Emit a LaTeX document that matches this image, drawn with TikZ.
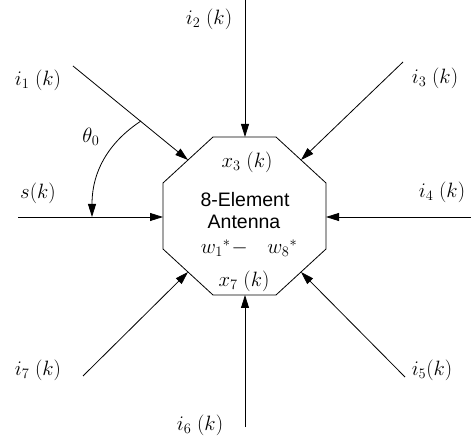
\documentclass[tikz,border=0pt]{standalone}
\usepackage{fontspec}
\newfontfamily\arialfont{Liberation Sans}
\usetikzlibrary{arrows.meta}
\begin{document}
\begin{tikzpicture}[x=1pt,y=-1pt,
  sig/.style={line width=0.8pt, -{Triangle[length=13pt,width=8pt]}},
  lbl/.style={font=\fontsize{22}{24}\selectfont, inner sep=0pt},
  inner/.style={font=\arialfont\fontsize{19.5}{22}\selectfont, inner sep=0pt},
]
\useasboundingbox (0,0) rectangle (471,443);
% octagon
\coordinate (o1) at (213,137);
\coordinate (o2) at (276,137);
\coordinate (o3) at (326,183);
\coordinate (o4) at (326,249);
\coordinate (o5) at (276,295);
\coordinate (o6) at (213,295);
\coordinate (o7) at (163,249);
\coordinate (o8) at (163,183);
\draw[line width=0.8pt] (o1) -- (o2) -- (o3) -- (o4) -- (o5) -- (o6) -- (o7) -- (o8) -- cycle;
% edge points
\coordinate (eT) at (245,137);
\coordinate (eB) at (245,295);
\coordinate (eL) at (163,217);
\coordinate (eR) at (326,217);
\coordinate (eUL) at (188,160);
\coordinate (eUR) at (301,160);
\coordinate (eLL) at (188,272);
\coordinate (eLR) at (301,272);
% inner text
\node[lbl] (x3) at (247,162) {$x_3\;(k)$};
\node[inner] (el) at (245,200) {8-Element};
\node[inner] (an) at (244,222) {Antenna};
\node[lbl] (w) at (249,248) {$w_1{}^{*}\!-\;\;\, w_8{}^{*}$};
\node[lbl] (x7) at (244,281) {$x_7\;(k)$};
% sources
\coordinate (s1) at (73,66);
\coordinate (s2) at (245,0);
\coordinate (s3) at (403,62);
\coordinate (s4) at (471,217);
\coordinate (s5) at (405,377);
\coordinate (s6) at (245,427);
\coordinate (s7) at (83,376);
\coordinate (s0) at (18,217);
\draw[sig] (s1) -- (eUL);
\draw[sig] (s2) -- (eT);
\draw[sig] (s3) -- (eUR);
\draw[sig] (s4) -- (eR);
\draw[sig] (s5) -- (eLR);
\draw[sig] (s6) -- (eB);
\draw[sig] (s7) -- (eLL);
\draw[sig] (s0) -- (eL);
% angle arc
\coordinate (a1) at (141,121);
\coordinate (a2) at (92,217);
\draw[sig] (a1) .. controls (112,140) and (92,168) .. (a2);
% labels
\node[lbl] (l1) at (38,80) {$i_1\;(k)$};
\node[lbl] (l2) at (209,19) {$i_2\;(k)$};
\node[lbl] (l3) at (435,78) {$i_3\;(k)$};
\node[lbl] (l4) at (442,192) {$i_4\;(k)$};
\node[lbl] (l5) at (432,370) {$i_5(k)$};
\node[lbl] (l6) at (200,425) {$i_6\;(k)$};
\node[lbl] (l7) at (38,370) {$i_7\;(k)$};
\node[lbl] (l0) at (38,193) {$s(k)$};
\node[lbl] (th) at (91,137) {$\theta_0$};
\end{tikzpicture}
\end{document}
